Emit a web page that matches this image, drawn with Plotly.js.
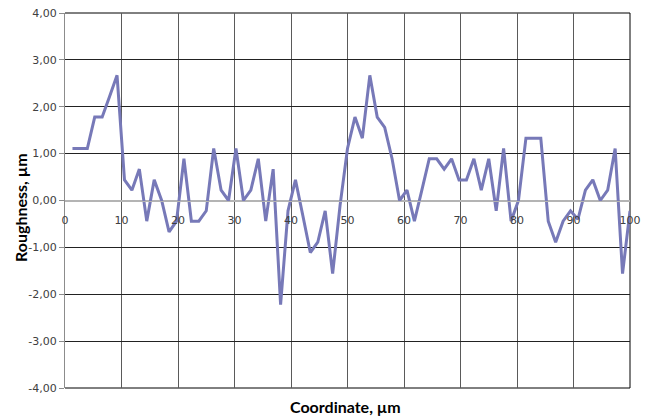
<!DOCTYPE html>
<html>
<head>
<meta charset="utf-8">
<script src="https://cdn.plot.ly/plotly-3.0.1.min.js"></script>
<style>
  html, body { margin: 0; padding: 0; background: #ffffff; }
  #chart { width: 648px; height: 417px; }
</style>
</head>
<body>
<div id="chart"></div>
<script>
// Profile coordinate along the trace, µm
const coordinate = [
  1.32, 2.63, 3.95, 5.26, 6.58, 7.89, 9.21, 10.53, 11.84, 13.16,
  14.47, 15.79, 17.11, 18.42, 19.74, 21.05, 22.37, 23.68, 25.00, 26.32,
  27.63, 28.95, 30.26, 31.58, 32.89, 34.21, 35.53, 36.84, 38.16, 39.47,
  40.79, 42.11, 43.42, 44.74, 46.05, 47.37, 48.68, 50.00, 51.32, 52.63,
  53.95, 55.26, 56.58, 57.89, 59.21, 60.53, 61.84, 63.16, 64.47, 65.79,
  67.11, 68.42, 69.74, 71.05, 72.37, 73.68, 75.00, 76.32, 77.63, 78.95,
  80.26, 81.58, 82.89, 84.21, 85.53, 86.84, 88.16, 89.47, 90.79, 92.11,
  93.42, 94.74, 96.05, 97.37, 98.68, 100.00
];

// Measured surface roughness, µm
const roughness = [
  1.11, 1.11, 1.11, 1.78, 1.78, 2.22, 2.67, 0.44, 0.22, 0.67,
  -0.44, 0.44, 0.00, -0.67, -0.44, 0.89, -0.44, -0.44, -0.22, 1.11,
  0.22, 0.00, 1.11, 0.00, 0.22, 0.89, -0.44, 0.67, -2.22, -0.22,
  0.44, -0.33, -1.11, -0.89, -0.22, -1.56, -0.11, 1.11, 1.78, 1.33,
  2.67, 1.78, 1.56, 0.89, 0.00, 0.22, -0.44, 0.22, 0.89, 0.89,
  0.67, 0.89, 0.44, 0.44, 0.89, 0.22, 0.89, -0.22, 1.11, -0.44,
  0.00, 1.33, 1.33, 1.33, -0.44, -0.89, -0.44, -0.22, -0.40, 0.22,
  0.44, 0.00, 0.22, 1.11, -1.56, -0.22
];

// Axis ticks
const xTickVals = [0, 10, 20, 30, 40, 50, 60, 70, 80, 90, 100];
const xTickText = ["0", "10", "20", "30", "40", "50", "60", "70", "80", "90", "100"];
const yTickVals = [4, 3, 2, 1, 0, -1, -2, -3, -4];
const yTickText = ["4,00", "3,00", "2,00", "1,00", "0,00", "-1,00", "-2,00", "-3,00", "-4,00"];

const trace = {
  x: coordinate,
  y: roughness,
  type: "scatter",
  mode: "lines",
  line: { color: "#7779b8", width: 3 },
  hoverinfo: "x+y"
};

const frameLine = { color: "#000000", width: 1 };

const layout = {
  width: 648,
  height: 417,
  margin: { l: 65, r: 18, t: 13, b: 29, pad: 0 },
  paper_bgcolor: "#ffffff",
  plot_bgcolor: "#ffffff",
  showlegend: false,
  font: { family: "DejaVu Sans", size: 11, color: "#404040" },
  xaxis: {
    range: [0, 100],
    anchor: "free",
    position: 0.5,
    tickmode: "array",
    tickvals: xTickVals,
    ticktext: xTickText,
    ticks: "",
    ticklabelstandoff: 9,
    showline: true,
    linecolor: "#b4b4b4",
    linewidth: 1,
    showgrid: true,
    gridcolor: "#5a5a5a",
    gridwidth: 1,
    zeroline: false,
    tickfont: { family: "DejaVu Sans", size: 11, color: "#404040" },
    fixedrange: true
  },
  yaxis: {
    range: [-4, 4],
    tickmode: "array",
    tickvals: yTickVals,
    ticktext: yTickText,
    ticks: "outside",
    ticklen: 5,
    tickcolor: "#8c8c8c",
    showline: true,
    linecolor: "#8c8c8c",
    linewidth: 1,
    showgrid: true,
    gridcolor: "#222222",
    gridwidth: 1,
    zeroline: true,
    zerolinecolor: "#b4b4b4",
    zerolinewidth: 1,
    tickfont: { family: "DejaVu Sans", size: 11, color: "#404040" },
    fixedrange: true
  },
  // top, right and bottom edges of the plot frame
  shapes: [
    { type: "line", xref: "x domain", yref: "y domain", x0: 0, x1: 1, y0: 1, y1: 1, line: frameLine, layer: "below" },
    { type: "line", xref: "x domain", yref: "y domain", x0: 1, x1: 1, y0: 0, y1: 1, line: frameLine, layer: "below" },
    { type: "line", xref: "x domain", yref: "y domain", x0: 0, x1: 1, y0: 0, y1: 0, line: frameLine, layer: "below" }
  ],
  annotations: [
    {
      text: "<b>Coordinate, µm</b>",
      xref: "paper", yref: "paper",
      x: 0.496, y: -0.048,
      xanchor: "center", yanchor: "middle",
      showarrow: false,
      font: { family: "Lato", size: 16, color: "#000000" }
    },
    {
      text: "<b>Roughness, µm</b>",
      xref: "paper", yref: "paper",
      x: -0.0796, y: 0.48,
      xanchor: "center", yanchor: "middle",
      textangle: -90,
      showarrow: false,
      font: { family: "Lato", size: 16, color: "#000000" }
    }
  ]
};

Plotly.newPlot("chart", [trace], layout, { displayModeBar: false, staticPlot: true });
</script>
</body>
</html>
